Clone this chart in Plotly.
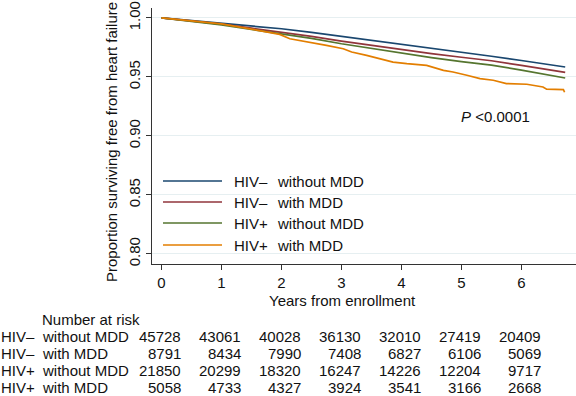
import plotly.graph_objects as go

# ---------------- data ----------------
groups = ["HIV\u2013  without MDD", "HIV\u2013  with MDD", "HIV+  without MDD", "HIV+  with MDD"]
group_hiv = ["HIV\u2013", "HIV\u2013", "HIV+", "HIV+"]
group_mdd = ["without MDD", "with MDD", "without MDD", "with MDD"]
colors = ["#1a476f", "#90353b", "#55752f", "#e37e00"]

t_blue = [0, 0.5, 1.0, 1.5, 2.0, 2.5, 3.0, 3.5, 4.0, 4.5, 5.0, 5.5, 6.0, 6.5, 6.73]
s_blue = [1.0, 0.9978, 0.9957, 0.9933, 0.9908, 0.9878, 0.9845, 0.9811, 0.9778, 0.9744,
          0.9710, 0.9675, 0.9639, 0.9602, 0.9584]

t_red = [0, 0.5, 1.0, 1.5, 2.0, 2.5, 3.0, 3.5, 4.0, 4.5, 5.0, 5.5, 6.0, 6.5, 6.73]
s_red = [1.0, 0.9975, 0.9948, 0.9913, 0.9879, 0.9843, 0.9804, 0.9767, 0.9731, 0.9697,
         0.9667, 0.9637, 0.9598, 0.9558, 0.9539]

t_green = [0, 0.5, 1.0, 1.5, 2.0, 2.5, 3.0, 3.5, 4.0, 4.5, 5.0, 5.5, 6.0, 6.5, 6.73]
s_green = [1.0, 0.9972, 0.9940, 0.9902, 0.9865, 0.9826, 0.9781, 0.9740, 0.9700, 0.9664,
           0.9630, 0.9600, 0.9558, 0.9514, 0.9491]

t_orange = [0, 0.5, 1.0, 1.5, 1.97, 2.14, 2.47, 2.75, 3.03, 3.17, 3.42, 3.64, 3.86, 4.09,
            4.42, 4.70, 4.86, 5.09, 5.31, 5.53, 5.75, 6.09, 6.36, 6.42, 6.70, 6.72]
s_orange = [1.0, 0.9978, 0.9950, 0.9905, 0.9860, 0.9823, 0.9795, 0.9767, 0.9739, 0.9711,
            0.9682, 0.9654, 0.9626, 0.9612, 0.9598, 0.9556, 0.9542, 0.9514, 0.9486, 0.9472,
            0.9444, 0.9438, 0.9415, 0.9396, 0.9393, 0.9370]

risk_times = [0, 1, 2, 3, 4, 5, 6]
risk_blue = [45728, 43061, 40028, 36130, 32010, 27419, 20409]
risk_red = [8791, 8434, 7990, 7408, 6827, 6106, 5069]
risk_green = [21850, 20299, 18320, 16247, 14226, 12204, 9717]
risk_orange = [5058, 4733, 4327, 3924, 3541, 3166, 2668]

y_ticks = [0.80, 0.85, 0.90, 0.95, 1.00]
y_ticklabels = ["0.80", "0.85", "0.90", "0.95", "1.00"]
x_ticks = [0, 1, 2, 3, 4, 5, 6]

p_text = "<i>P</i> &lt;0.0001"
x_title = "Years from enrollment"
y_title = "Proportion surviving free from heart failure"
risk_title = "Number at risk"

# ---------------- figure ----------------
FONT = "Liberation Sans, Arial, sans-serif"
FS = 15
W, H = 576, 396
ML, MR, MT, MB = 152, 0, 8, 132
PW, PH = W - ML - MR, H - MT - MB


def px_x(p):
    return (p - ML) / PW


def px_y(p):
    return (H - MB - p) / PH


series = [(t_blue, s_blue), (t_red, s_red), (t_green, s_green), (t_orange, s_orange)]
risks = [risk_blue, risk_red, risk_green, risk_orange]

fig = go.Figure()
for (tt, ss), name, col in zip(series, groups, colors):
    fig.add_trace(go.Scatter(x=tt, y=ss, mode="lines", name=name, showlegend=False,
                             line=dict(color=col, width=1.7), hoverinfo="skip"))

annotations = []
shapes = []

# manual legend
leg_rows_px = [181, 202, 223, 245]
for i, py in enumerate(leg_rows_px):
    shapes.append(dict(type="line", xref="paper", yref="paper",
                       x0=px_x(163), x1=px_x(222), y0=px_y(py), y1=px_y(py),
                       line=dict(color=colors[i], width=1.7)))
    annotations.append(dict(text=group_hiv[i], xref="paper", yref="paper",
                            x=px_x(232), y=px_y(py), xanchor="left", yanchor="middle",
                            showarrow=False, font=dict(size=FS)))
    annotations.append(dict(text=group_mdd[i], xref="paper", yref="paper",
                            x=px_x(275), y=px_y(py), xanchor="left", yanchor="middle",
                            showarrow=False, font=dict(size=FS)))

# P-value
annotations.append(dict(text=p_text, xref="paper", yref="paper", x=px_x(459), y=px_y(116),
                        xanchor="left", yanchor="middle", showarrow=False, font=dict(size=FS)))

# axis titles
annotations.append(dict(text=x_title, xref="paper", yref="paper", x=px_x(342), y=px_y(300),
                        xanchor="center", yanchor="middle", showarrow=False, font=dict(size=FS)))
annotations.append(dict(text=y_title, xref="paper", yref="paper", x=px_x(111), y=px_y(142),
                        xanchor="center", yanchor="middle", textangle=-90, showarrow=False,
                        font=dict(size=FS)))

# number at risk table
annotations.append(dict(text=risk_title, xref="paper", yref="paper", x=px_x(40), y=px_y(319),
                        xanchor="left", yanchor="middle", showarrow=False, font=dict(size=FS)))
row_px = [336.5, 353.5, 370.5, 387.5]
for i, py in enumerate(row_px):
    annotations.append(dict(text=group_hiv[i], xref="paper", yref="paper", x=px_x(0), y=px_y(py),
                            xanchor="left", yanchor="middle", showarrow=False, font=dict(size=FS),
                            borderpad=0))
    annotations.append(dict(text=group_mdd[i], xref="paper", yref="paper", x=px_x(41), y=px_y(py),
                            xanchor="left", yanchor="middle", showarrow=False, font=dict(size=FS),
                            borderpad=0))
    for t, n in zip(risk_times, risks[i]):
        annotations.append(dict(text=str(n), xref="x", yref="paper", x=t + 0.35, y=px_y(py),
                                xanchor="right", yanchor="middle", showarrow=False,
                                font=dict(size=FS), borderpad=0))

fig.update_layout(
    width=W, height=H,
    margin=dict(l=ML, r=MR, t=MT, b=MB, pad=0),
    paper_bgcolor="white", plot_bgcolor="white",
    font=dict(family=FONT, size=FS, color="#111111"),
    showlegend=False,
    annotations=annotations,
    shapes=shapes,
)
fig.update_xaxes(range=[-0.158, 6.91], tickvals=x_ticks, ticks="outside", ticklen=5,
                 tickcolor="#333333", showline=True, linecolor="#333333", linewidth=1,
                 showgrid=False, zeroline=False, tickfont=dict(size=FS))
fig.update_yaxes(range=[0.7915, 1.0084], tickvals=y_ticks, ticktext=y_ticklabels,
                 tickangle=-90, ticks="outside", ticklen=5, tickcolor="#333333",
                 showline=True, linecolor="#333333", linewidth=1,
                 showgrid=True, gridcolor="#e6eff1", gridwidth=1, zeroline=False,
                 tickfont=dict(size=FS))

fig.write_html(
    "out.html",
    config={"displayModeBar": False},
    post_script="document.body.style.margin='0';document.body.style.overflow='hidden';",
)
